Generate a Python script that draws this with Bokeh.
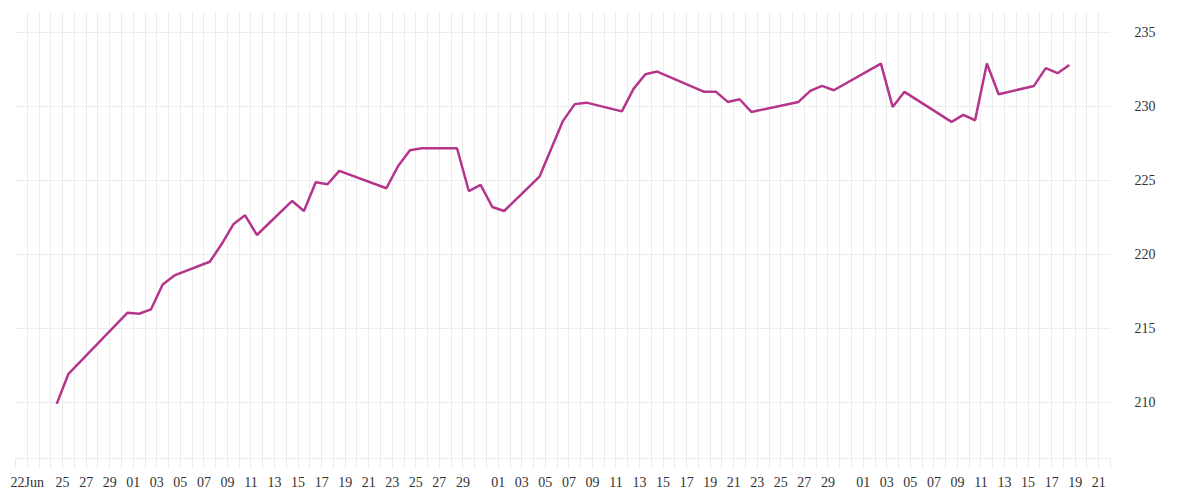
import pandas as pd
from bokeh.plotting import figure
from bokeh.models import FixedTicker, Range1d, ColumnDataSource
from bokeh.embed import file_html
from bokeh.resources import INLINE

# ---- data ----
dates = [
    "2025-06-24", "2025-06-25", "2025-06-30", "2025-07-01", "2025-07-02", "2025-07-03",
    "2025-07-04", "2025-07-07", "2025-07-08", "2025-07-09", "2025-07-10", "2025-07-11",
    "2025-07-14", "2025-07-15", "2025-07-16", "2025-07-17", "2025-07-18", "2025-07-22",
    "2025-07-23", "2025-07-24", "2025-07-25", "2025-07-28", "2025-07-29", "2025-07-30",
    "2025-07-31", "2025-08-01", "2025-08-04", "2025-08-05", "2025-08-06", "2025-08-07",
    "2025-08-08", "2025-08-11", "2025-08-12", "2025-08-13", "2025-08-14", "2025-08-18",
    "2025-08-19", "2025-08-20", "2025-08-21", "2025-08-22", "2025-08-26", "2025-08-27",
    "2025-08-28", "2025-08-29", "2025-09-02", "2025-09-03", "2025-09-04", "2025-09-08",
    "2025-09-09", "2025-09-10", "2025-09-11", "2025-09-12", "2025-09-15", "2025-09-16",
    "2025-09-17", "2025-09-18",
]
values = [
    209.89, 211.92, 216.04, 215.98, 216.27, 217.96,
    218.57, 219.49, 220.67, 222.02, 222.63, 221.30,
    223.60, 222.92, 224.86, 224.73, 225.63, 224.46,
    225.96, 227.03, 227.16, 227.16, 224.27, 224.68,
    223.19, 222.92, 225.24, 227.13, 229.01, 230.14,
    230.24, 229.65, 231.19, 232.16, 232.34, 230.97,
    230.97, 230.29, 230.47, 229.61, 230.29, 231.03,
    231.37, 231.08, 232.88, 229.95, 230.97, 228.94,
    229.41, 229.05, 232.88, 230.81, 231.37, 232.57,
    232.23, 232.79,
]
tick_dates = (
    ["2025-06-22", "2025-06-25", "2025-06-27", "2025-06-29"]
    + [f"2025-07-{d:02d}" for d in range(1, 30, 2)]
    + [f"2025-08-{d:02d}" for d in range(1, 30, 2)]
    + [f"2025-09-{d:02d}" for d in range(1, 22, 2)]
)
tick_labels = ["22Jun"] + [d[-2:] for d in tick_dates[1:]]
y_ticks = [210, 215, 220, 225, 230, 235]

# ---- derived ----
x = pd.to_datetime(dates) + pd.Timedelta(hours=12)
src = ColumnDataSource(dict(x=x, y=values))

x_start = pd.Timestamp("2025-06-21")
x_end = pd.Timestamp("2025-09-22")
all_days = pd.date_range(x_start, x_end, freq="D")
to_ms = lambda t: t.value / 1e6
tick_ms = [to_ms(pd.Timestamp(t)) for t in tick_dates]
day_ms = [to_ms(t) for t in all_days]

FONT = "Liberation Serif"
GRID = "#ececec"
TEXT = "#333333"

p = figure(
    x_axis_type="datetime",
    frame_width=1095, frame_height=446,
    min_border_left=15, min_border_top=12, min_border_right=82, min_border_bottom=34,
    x_range=Range1d(to_ms(x_start), to_ms(x_end)),
    y_range=Range1d(206.2, 236.33),
    output_backend="svg", toolbar_location=None,
    y_axis_location="right",
)
p.outline_line_color = None
p.background_fill_color = "white"
p.border_fill_color = "white"

# x axis
xa = p.xaxis[0]
xa.ticker = FixedTicker(ticks=tick_ms, minor_ticks=day_ms)
xa.major_label_overrides = {t: lab for t, lab in zip(tick_ms, tick_labels)}
xa.axis_line_color = GRID
xa.major_tick_line_color = GRID
xa.minor_tick_line_color = GRID
xa.major_tick_out = 10
xa.major_tick_in = 0
xa.minor_tick_out = 10
xa.minor_tick_in = 0
xa.major_label_standoff = 6
xa.major_label_text_font = FONT
xa.major_label_text_font_size = "14px"
xa.major_label_text_color = TEXT

# y axis
ya = p.yaxis[0]
ya.ticker = FixedTicker(ticks=y_ticks)
ya.axis_line_color = None
ya.major_tick_line_color = None
ya.minor_tick_line_color = None
ya.major_label_standoff = 18
ya.major_label_text_font = FONT
ya.major_label_text_font_size = "14px"
ya.major_label_text_color = TEXT

# grids
p.xgrid.grid_line_color = GRID
p.xgrid.minor_grid_line_color = GRID
p.ygrid.grid_line_color = GRID

p.line("x", "y", source=src, line_color="#b5348c", line_width=2.5)

open("out.html", "w").write(file_html(p, INLINE))
